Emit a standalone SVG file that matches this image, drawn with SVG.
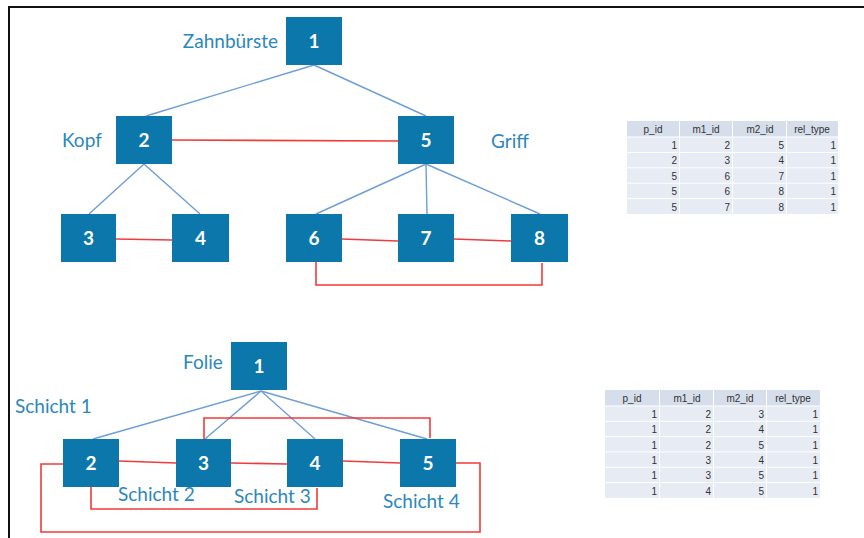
<svg xmlns="http://www.w3.org/2000/svg" width="864" height="538" viewBox="0 0 864 538">
<style>
.node{fill:#0b77ab}
.num{fill:#ffffff;font-family:"Lato","Liberation Sans",sans-serif;font-size:19px;font-weight:bold;text-anchor:middle}
.lbl{fill:#2b87bd;font-family:"Lato","Liberation Sans",sans-serif;font-size:19px}
.tree{stroke:#6d9fd6;stroke-width:1.4;fill:none}
.rel{stroke:#f23a3a;stroke-width:1.6;fill:none}
.hd{fill:#d6deeb}
.cell{fill:#e6ebf4}
.th{fill:#333;font-family:"Liberation Sans",sans-serif;font-size:10px;text-anchor:middle}
.td{fill:#333;font-family:"Liberation Sans",sans-serif;font-size:10px;text-anchor:end}
</style>
<rect x="0" y="0" width="864" height="538" fill="#ffffff"/>
<g id="frame">
<line x1="8" y1="7" x2="864" y2="7" stroke="#111" stroke-width="2"/>
<line x1="9" y1="6" x2="9" y2="538" stroke="#111" stroke-width="2"/>
</g>
<g id="connectors">
<line class="tree" x1="314" y1="65" x2="146" y2="116"/>
<line class="tree" x1="314" y1="65" x2="426" y2="116"/>
<line class="tree" x1="144" y1="164" x2="89" y2="214"/>
<line class="tree" x1="144" y1="164" x2="200" y2="214"/>
<line class="tree" x1="426" y1="164" x2="316" y2="214"/>
<line class="tree" x1="426" y1="164" x2="427" y2="214"/>
<line class="tree" x1="426" y1="164" x2="540" y2="214"/>
<polyline class="rel" points="172,140 399,141"/>
<polyline class="rel" points="116,239 172,240"/>
<polyline class="rel" points="342,239 398,241"/>
<polyline class="rel" points="454,239 511,241"/>
<polyline class="rel" points="316,262 316,285 542,285 542,263"/>
<line class="tree" x1="261" y1="391" x2="93" y2="439"/>
<line class="tree" x1="261" y1="391" x2="205" y2="439"/>
<line class="tree" x1="261" y1="391" x2="315" y2="439"/>
<line class="tree" x1="261" y1="391" x2="427" y2="439"/>
<polyline class="rel" points="204,439 204,418 430,418 430,438"/>
<polyline class="rel" points="119,461 176,463"/>
<polyline class="rel" points="231,463 287,464"/>
<polyline class="rel" points="343,461 400,463"/>
<polyline class="rel" points="91,487 91,509 317,509 317,488"/>
<polyline class="rel" points="63,464 41,464 41,532 480,532 480,463 456,463"/>
</g>
<g id="n1"><rect class="node" x="286" y="17" width="56" height="48"/><text class="num" x="314" y="48">1</text></g>
<g id="n2"><rect class="node" x="116" y="116" width="56" height="48"/><text class="num" x="144" y="147">2</text></g>
<g id="n3"><rect class="node" x="61" y="214" width="55" height="48"/><text class="num" x="88.5" y="245">3</text></g>
<g id="n4"><rect class="node" x="172" y="214" width="57" height="48"/><text class="num" x="200.5" y="245">4</text></g>
<g id="n5"><rect class="node" x="398" y="116" width="56" height="48"/><text class="num" x="426" y="147">5</text></g>
<g id="n6"><rect class="node" x="286" y="214" width="56" height="48"/><text class="num" x="314" y="245">6</text></g>
<g id="n7"><rect class="node" x="398" y="214" width="56" height="48"/><text class="num" x="426" y="245">7</text></g>
<g id="n8"><rect class="node" x="511" y="214" width="57" height="48"/><text class="num" x="539.5" y="245">8</text></g>
<g id="labels1">
<text class="lbl" x="278" y="48" text-anchor="end">Zahnbürste</text>
<text class="lbl" x="62" y="147">Kopf</text>
<text class="lbl" x="491" y="148">Griff</text>
</g>
<g id="b1"><rect class="node" x="231" y="342" width="56" height="48"/><text class="num" x="259" y="373">1</text></g>
<g id="b2"><rect class="node" x="63" y="439" width="56" height="48"/><text class="num" x="91" y="470">2</text></g>
<g id="b3"><rect class="node" x="176" y="439" width="55" height="48"/><text class="num" x="203.5" y="470">3</text></g>
<g id="b4"><rect class="node" x="287" y="439" width="56" height="48"/><text class="num" x="315" y="470">4</text></g>
<g id="b5"><rect class="node" x="400" y="439" width="56" height="48"/><text class="num" x="428" y="470">5</text></g>
<g id="labels2">
<text class="lbl" x="183" y="369">Folie</text>
<text class="lbl" x="15" y="413">Schicht 1</text>
<text class="lbl" x="118" y="501">Schicht 2</text>
<text class="lbl" x="234" y="503">Schicht 3</text>
<text class="lbl" x="383" y="508">Schicht 4</text>
</g>
<g id="table1">
<rect class="hd" x="627" y="121" width="52" height="15.5"/>
<rect class="hd" x="680" y="121" width="52" height="15.5"/>
<rect class="hd" x="733" y="121" width="53" height="15.5"/>
<rect class="hd" x="787" y="121" width="51" height="15.5"/>
<text class="th" x="653" y="133">p_id</text>
<text class="th" x="706" y="133">m1_id</text>
<text class="th" x="760" y="133">m2_id</text>
<text class="th" x="812" y="133">rel_type</text>
<g>
<rect class="cell" x="627" y="137.5" width="52" height="14.4"/><rect class="cell" x="680" y="137.5" width="52" height="14.4"/><rect class="cell" x="733" y="137.5" width="53" height="14.4"/><rect class="cell" x="787" y="137.5" width="51" height="14.4"/>
<rect class="cell" x="627" y="152.9" width="52" height="14.4"/><rect class="cell" x="680" y="152.9" width="52" height="14.4"/><rect class="cell" x="733" y="152.9" width="53" height="14.4"/><rect class="cell" x="787" y="152.9" width="51" height="14.4"/>
<rect class="cell" x="627" y="168.3" width="52" height="14.4"/><rect class="cell" x="680" y="168.3" width="52" height="14.4"/><rect class="cell" x="733" y="168.3" width="53" height="14.4"/><rect class="cell" x="787" y="168.3" width="51" height="14.4"/>
<rect class="cell" x="627" y="183.7" width="52" height="14.4"/><rect class="cell" x="680" y="183.7" width="52" height="14.4"/><rect class="cell" x="733" y="183.7" width="53" height="14.4"/><rect class="cell" x="787" y="183.7" width="51" height="14.4"/>
<rect class="cell" x="627" y="199.1" width="52" height="14.9"/><rect class="cell" x="680" y="199.1" width="52" height="14.9"/><rect class="cell" x="733" y="199.1" width="53" height="14.9"/><rect class="cell" x="787" y="199.1" width="51" height="14.9"/>
</g>
<text class="td" x="677" y="149">1</text><text class="td" x="730" y="149">2</text><text class="td" x="784" y="149">5</text><text class="td" x="836" y="149">1</text>
<text class="td" x="677" y="164.4">2</text><text class="td" x="730" y="164.4">3</text><text class="td" x="784" y="164.4">4</text><text class="td" x="836" y="164.4">1</text>
<text class="td" x="677" y="179.8">5</text><text class="td" x="730" y="179.8">6</text><text class="td" x="784" y="179.8">7</text><text class="td" x="836" y="179.8">1</text>
<text class="td" x="677" y="195.2">5</text><text class="td" x="730" y="195.2">6</text><text class="td" x="784" y="195.2">8</text><text class="td" x="836" y="195.2">1</text>
<text class="td" x="677" y="210.6">5</text><text class="td" x="730" y="210.6">7</text><text class="td" x="784" y="210.6">8</text><text class="td" x="836" y="210.6">1</text>
</g>
<g id="table2">
<rect class="hd" x="605" y="390" width="54" height="15.5"/>
<rect class="hd" x="660" y="390" width="53" height="15.5"/>
<rect class="hd" x="714" y="390" width="52" height="15.5"/>
<rect class="hd" x="767" y="390" width="53" height="15.5"/>
<text class="th" x="632" y="402">p_id</text>
<text class="th" x="687" y="402">m1_id</text>
<text class="th" x="740" y="402">m2_id</text>
<text class="th" x="793" y="402">rel_type</text>
<g>
<rect class="cell" x="605" y="406.5" width="54" height="14.3"/><rect class="cell" x="660" y="406.5" width="53" height="14.3"/><rect class="cell" x="714" y="406.5" width="52" height="14.3"/><rect class="cell" x="767" y="406.5" width="53" height="14.3"/>
<rect class="cell" x="605" y="421.8" width="54" height="14.3"/><rect class="cell" x="660" y="421.8" width="53" height="14.3"/><rect class="cell" x="714" y="421.8" width="52" height="14.3"/><rect class="cell" x="767" y="421.8" width="53" height="14.3"/>
<rect class="cell" x="605" y="437.1" width="54" height="14.3"/><rect class="cell" x="660" y="437.1" width="53" height="14.3"/><rect class="cell" x="714" y="437.1" width="52" height="14.3"/><rect class="cell" x="767" y="437.1" width="53" height="14.3"/>
<rect class="cell" x="605" y="452.4" width="54" height="14.3"/><rect class="cell" x="660" y="452.4" width="53" height="14.3"/><rect class="cell" x="714" y="452.4" width="52" height="14.3"/><rect class="cell" x="767" y="452.4" width="53" height="14.3"/>
<rect class="cell" x="605" y="467.7" width="54" height="14.3"/><rect class="cell" x="660" y="467.7" width="53" height="14.3"/><rect class="cell" x="714" y="467.7" width="52" height="14.3"/><rect class="cell" x="767" y="467.7" width="53" height="14.3"/>
<rect class="cell" x="605" y="483" width="54" height="15"/><rect class="cell" x="660" y="483" width="53" height="15"/><rect class="cell" x="714" y="483" width="52" height="15"/><rect class="cell" x="767" y="483" width="53" height="15"/>
</g>
<text class="td" x="657" y="418">1</text><text class="td" x="711" y="418">2</text><text class="td" x="764" y="418">3</text><text class="td" x="818" y="418">1</text>
<text class="td" x="657" y="433.3">1</text><text class="td" x="711" y="433.3">2</text><text class="td" x="764" y="433.3">4</text><text class="td" x="818" y="433.3">1</text>
<text class="td" x="657" y="448.6">1</text><text class="td" x="711" y="448.6">2</text><text class="td" x="764" y="448.6">5</text><text class="td" x="818" y="448.6">1</text>
<text class="td" x="657" y="463.9">1</text><text class="td" x="711" y="463.9">3</text><text class="td" x="764" y="463.9">4</text><text class="td" x="818" y="463.9">1</text>
<text class="td" x="657" y="479.2">1</text><text class="td" x="711" y="479.2">3</text><text class="td" x="764" y="479.2">5</text><text class="td" x="818" y="479.2">1</text>
<text class="td" x="657" y="494.5">1</text><text class="td" x="711" y="494.5">4</text><text class="td" x="764" y="494.5">5</text><text class="td" x="818" y="494.5">1</text>
</g>
</svg>
